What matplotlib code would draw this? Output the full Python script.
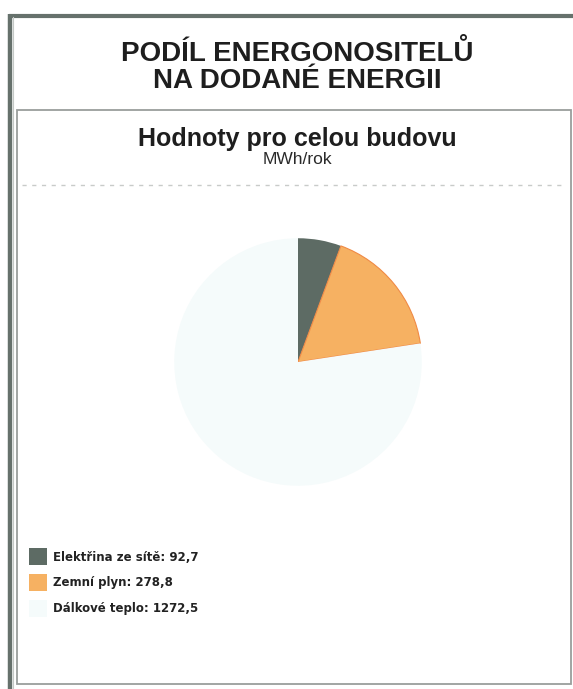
import matplotlib
matplotlib.use('Agg')
import matplotlib.pyplot as plt
from matplotlib.patches import Rectangle, Patch
from matplotlib.lines import Line2D

plt.rcParams['font.family'] = ['Liberation Sans', 'DejaVu Sans']

# data
labels = ['Elektřina ze sítě', 'Zemní plyn', 'Dálkové teplo']
values = [92.7, 278.8, 1272.5]
value_texts = ['92,7', '278,8', '1272,5']
colors = ['#5d6b64', '#f6b162', '#f5fbfb']

title = 'PODÍL ENERGONOSITELŮ\nNA DODANÉ ENERGII'
subtitle = 'Hodnoty pro celou budovu'
unit = 'MWh/rok'

W, H = 573, 689
fig = plt.figure(figsize=(W / 100, H / 100), dpi=100)
fig.patch.set_facecolor('white')


def fx(px):
    return px / W


def fy(py):
    return 1 - py / H


# outer frame (cut off on the right / bottom)
fig.add_artist(Line2D([fx(10), fx(10)], [fy(14), fy(689)], color='#66716c',
                      lw=3.2, solid_capstyle='butt'))
fig.add_artist(Line2D([fx(8.5), fx(573)], [fy(15.5), fy(15.5)], color='#66716c',
                      lw=3.0, solid_capstyle='butt'))
fig.add_artist(Line2D([fx(13), fx(13)], [fy(17), fy(689)], color='#c4c9c6', lw=0.8))

# inner box
fig.add_artist(Rectangle((fx(17), fy(684)), fx(571) - fx(17), fy(110) - fy(684),
                         fill=False, edgecolor='#9a9e9c', lw=1.3))

# dashed separator
fig.add_artist(Line2D([fx(22), fx(566)], [fy(185), fy(185)], color='#c8cbc9',
                      lw=1.0, ls=(0, (3, 4))))

fig.text(fx(297), fy(67), title, ha='center', va='center', fontsize=20,
         fontweight='bold', color='#1e1e1e', linespacing=1.08)
fig.text(fx(297), fy(139), subtitle, ha='center', va='center', fontsize=18,
         fontweight='bold', color='#1e1e1e')
fig.text(fx(297), fy(159), unit, ha='center', va='center', fontsize=12.5,
         color='#2a2a2a')

# pie
cx, cy, r = 298, 362, 125
ax = fig.add_axes([fx(cx - r), fy(cy + r), 2 * r / W, 2 * r / H])
wedges, _ = ax.pie(values, colors=colors, startangle=90, counterclock=False,
                   radius=1, wedgeprops=dict(linewidth=0))
wedges[1].set_edgecolor('#f08a45')
wedges[1].set_linewidth(0.8)
ax.set_xlim(-1.01, 1.01)
ax.set_ylim(-1.01, 1.01)
ax.set_aspect('equal')
ax.axis('off')

# legend
handles = [Patch(facecolor=c, edgecolor='none') for c in colors]
leg_labels = ['%s: %s' % (l, v) for l, v in zip(labels, value_texts)]
fig.legend(handles, leg_labels, loc='upper left',
           bbox_to_anchor=(fx(29), fy(548)), frameon=False,
           prop=dict(family='DejaVu Sans', size=8.5, weight='bold'),
           handlelength=1.5, handleheight=1.9, handletextpad=0.5,
           labelspacing=0.72, borderpad=0, borderaxespad=0,
           labelcolor='#222222')

fig.savefig('out.png', dpi=100)
